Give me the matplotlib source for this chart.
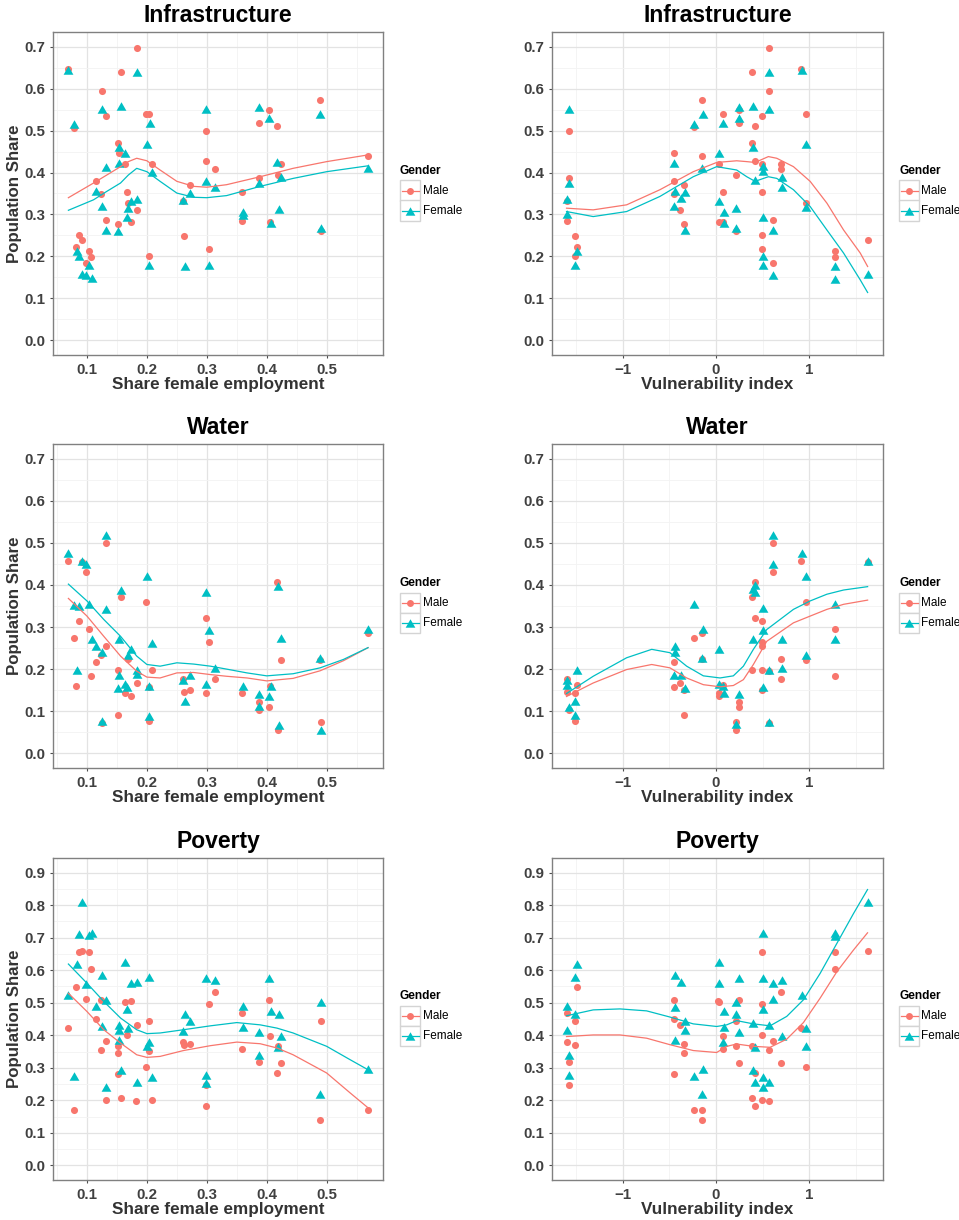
import matplotlib
matplotlib.use("Agg")
import matplotlib.pyplot as plt
from matplotlib.lines import Line2D
from matplotlib.patches import Rectangle

plt.rcParams['font.family'] = ['Liberation Sans', 'DejaVu Sans']

MALE_COLOR = '#F8766D'
FEMALE_COLOR = '#00BFC4'

# ---------------- Infrastructure ----------------
infra_emp_male = [(0.068, 0.647), (0.079, 0.507), (0.082, 0.223), (0.087, 0.251), (0.091, 0.239),
                  (0.099, 0.185), (0.103, 0.213), (0.107, 0.198), (0.115, 0.379), (0.125, 0.594),
                  (0.124, 0.348), (0.132, 0.534), (0.131, 0.287), (0.152, 0.470), (0.153, 0.446),
                  (0.151, 0.278), (0.157, 0.639), (0.163, 0.420), (0.167, 0.353), (0.168, 0.328),
                  (0.173, 0.282), (0.183, 0.698), (0.183, 0.310), (0.198, 0.539), (0.204, 0.539),
                  (0.208, 0.420), (0.204, 0.201), (0.260, 0.331), (0.262, 0.248), (0.272, 0.370),
                  (0.299, 0.498), (0.298, 0.427), (0.313, 0.408), (0.304, 0.217), (0.359, 0.353),
                  (0.359, 0.284), (0.387, 0.519), (0.387, 0.387), (0.403, 0.548), (0.417, 0.510),
                  (0.423, 0.420), (0.419, 0.395), (0.406, 0.282), (0.489, 0.572), (0.490, 0.260),
                  (0.569, 0.439)]
infra_emp_female = [(0.069, 0.644), (0.079, 0.516), (0.083, 0.213), (0.087, 0.202), (0.091, 0.159),
                    (0.099, 0.156), (0.103, 0.179), (0.108, 0.148), (0.115, 0.356), (0.125, 0.552),
                    (0.125, 0.320), (0.132, 0.413), (0.131, 0.262), (0.157, 0.559), (0.153, 0.461),
                    (0.164, 0.447), (0.153, 0.422), (0.152, 0.261), (0.174, 0.332), (0.169, 0.315),
                    (0.167, 0.294), (0.184, 0.338), (0.183, 0.640), (0.200, 0.467), (0.205, 0.517),
                    (0.209, 0.402), (0.204, 0.179), (0.261, 0.335), (0.263, 0.178), (0.272, 0.351),
                    (0.299, 0.551), (0.299, 0.380), (0.314, 0.365), (0.304, 0.179), (0.360, 0.299),
                    (0.360, 0.306), (0.387, 0.556), (0.387, 0.375), (0.404, 0.529), (0.407, 0.280),
                    (0.417, 0.425), (0.424, 0.390), (0.420, 0.314), (0.489, 0.540), (0.491, 0.267),
                    (0.569, 0.411)]
infra_emp_fit_x = [0.069, 0.111, 0.133, 0.156, 0.169, 0.183, 0.200, 0.222, 0.250, 0.278,
                   0.300, 0.333, 0.389, 0.444, 0.500, 0.569]
infra_emp_fit_male = [0.340, 0.375, 0.394, 0.414, 0.426, 0.434, 0.428, 0.406, 0.379, 0.367,
                      0.365, 0.371, 0.390, 0.410, 0.426, 0.442]
infra_emp_fit_female = [0.310, 0.335, 0.355, 0.375, 0.394, 0.410, 0.402, 0.379, 0.351, 0.341,
                        0.340, 0.345, 0.367, 0.386, 0.402, 0.416]

infra_vul_male = [(-1.602, 0.284), (-1.602, 0.333), (-1.573, 0.387), (-1.573, 0.498), (-1.516, 0.248),
                  (-1.516, 0.201), (-1.487, 0.223), (-0.448, 0.446), (-0.448, 0.379), (-0.448, 0.348),
                  (-0.340, 0.370), (-0.383, 0.310), (-0.340, 0.277), (-0.240, 0.509), (-0.147, 0.572),
                  (-0.147, 0.439), (0.032, 0.421), (0.029, 0.282), (0.079, 0.282), (0.075, 0.539),
                  (0.075, 0.353), (0.215, 0.394), (0.215, 0.260), (0.244, 0.548), (0.244, 0.519),
                  (0.391, 0.639), (0.391, 0.470), (0.416, 0.510), (0.416, 0.427), (0.498, 0.534),
                  (0.498, 0.420), (0.498, 0.353), (0.498, 0.251), (0.498, 0.217), (0.570, 0.698),
                  (0.570, 0.594), (0.613, 0.287), (0.613, 0.184), (0.699, 0.420), (0.699, 0.408),
                  (0.914, 0.647), (0.961, 0.539), (0.961, 0.328), (1.276, 0.213), (1.276, 0.198),
                  (1.627, 0.239)]
infra_vul_female = [(-1.577, 0.552), (-1.573, 0.376), (-1.602, 0.337), (-1.602, 0.301), (-1.487, 0.214),
                    (-1.516, 0.179), (-0.448, 0.422), (-0.444, 0.356), (-0.448, 0.321), (-0.337, 0.353),
                    (-0.376, 0.339), (-0.333, 0.263), (-0.240, 0.516), (-0.143, 0.540), (-0.147, 0.410),
                    (0.029, 0.446), (0.029, 0.333), (0.075, 0.517), (0.082, 0.306), (0.082, 0.280),
                    (0.215, 0.315), (0.219, 0.267), (0.247, 0.556), (0.247, 0.529), (0.394, 0.559),
                    (0.394, 0.461), (0.416, 0.382), (0.502, 0.416), (0.502, 0.404), (0.502, 0.294),
                    (0.502, 0.202), (0.502, 0.179), (0.573, 0.640), (0.573, 0.552), (0.616, 0.262),
                    (0.616, 0.156), (0.703, 0.390), (0.703, 0.365), (0.918, 0.644), (0.964, 0.467),
                    (0.964, 0.317), (1.280, 0.178), (1.280, 0.147), (1.631, 0.159)]
infra_vul_fit_x = [-1.604, -1.318, -0.959, -0.602, -0.244, 0.007, 0.222, 0.330, 0.419, 0.562,
                   0.652, 0.831, 1.010, 1.190, 1.369, 1.548, 1.627]
infra_vul_fit_male = [0.315, 0.311, 0.323, 0.359, 0.402, 0.424, 0.428, 0.426, 0.424, 0.438,
                      0.434, 0.414, 0.379, 0.327, 0.263, 0.208, 0.176]
infra_vul_fit_female = [0.307, 0.295, 0.307, 0.343, 0.390, 0.414, 0.406, 0.390, 0.379, 0.390,
                        0.386, 0.359, 0.319, 0.263, 0.208, 0.144, 0.114]

# ---------------- Water ----------------
water_emp_male = [(0.068, 0.458), (0.079, 0.274), (0.082, 0.161), (0.087, 0.315), (0.091, 0.454),
                  (0.099, 0.430), (0.103, 0.296), (0.107, 0.184), (0.115, 0.217), (0.124, 0.233),
                  (0.125, 0.072), (0.131, 0.499), (0.132, 0.255), (0.151, 0.091), (0.152, 0.199),
                  (0.157, 0.372), (0.163, 0.143), (0.168, 0.223), (0.173, 0.137), (0.183, 0.167),
                  (0.199, 0.360), (0.204, 0.158), (0.204, 0.076), (0.208, 0.199), (0.260, 0.177),
                  (0.262, 0.146), (0.272, 0.150), (0.298, 0.321), (0.304, 0.265), (0.299, 0.143),
                  (0.313, 0.177), (0.359, 0.144), (0.387, 0.123), (0.387, 0.103), (0.403, 0.110),
                  (0.417, 0.406), (0.423, 0.222), (0.419, 0.055), (0.406, 0.159), (0.489, 0.222),
                  (0.490, 0.075), (0.569, 0.286)]
water_emp_female = [(0.069, 0.476), (0.079, 0.353), (0.083, 0.197), (0.087, 0.350), (0.091, 0.456),
                    (0.099, 0.450), (0.103, 0.355), (0.108, 0.271), (0.115, 0.256), (0.125, 0.240),
                    (0.125, 0.076), (0.131, 0.518), (0.132, 0.344), (0.153, 0.272), (0.153, 0.187),
                    (0.152, 0.155), (0.157, 0.388), (0.164, 0.165), (0.167, 0.158), (0.169, 0.234),
                    (0.174, 0.247), (0.184, 0.197), (0.183, 0.189), (0.200, 0.421), (0.204, 0.161),
                    (0.204, 0.089), (0.209, 0.263), (0.261, 0.173), (0.263, 0.124), (0.272, 0.185),
                    (0.298, 0.383), (0.304, 0.293), (0.299, 0.165), (0.314, 0.202), (0.360, 0.161),
                    (0.387, 0.142), (0.387, 0.113), (0.404, 0.137), (0.407, 0.159), (0.418, 0.398),
                    (0.424, 0.273), (0.420, 0.068), (0.489, 0.226), (0.490, 0.056), (0.569, 0.295)]
water_emp_fit_x = [0.069, 0.100, 0.128, 0.156, 0.183, 0.200, 0.222, 0.250, 0.278, 0.306,
                   0.333, 0.367, 0.400, 0.444, 0.489, 0.528, 0.569]
water_emp_fit_male = [0.368, 0.326, 0.278, 0.231, 0.195, 0.181, 0.179, 0.191, 0.192, 0.187,
                      0.183, 0.179, 0.172, 0.178, 0.196, 0.220, 0.251]
water_emp_fit_female = [0.402, 0.362, 0.318, 0.278, 0.231, 0.211, 0.207, 0.215, 0.212, 0.207,
                        0.200, 0.191, 0.184, 0.189, 0.203, 0.223, 0.251]

water_vul_male = [(-1.602, 0.177), (-1.602, 0.146), (-1.573, 0.103), (-1.516, 0.076), (-1.516, 0.143),
                  (-1.487, 0.162), (-0.448, 0.218), (-0.448, 0.158), (-0.383, 0.167), (-0.340, 0.151),
                  (-0.340, 0.091), (-0.240, 0.274), (-0.147, 0.286), (-0.147, 0.223), (0.029, 0.143),
                  (0.032, 0.137), (0.075, 0.162), (0.215, 0.075), (0.215, 0.055), (0.244, 0.123),
                  (0.244, 0.111), (0.391, 0.372), (0.391, 0.199), (0.416, 0.406), (0.416, 0.321),
                  (0.498, 0.315), (0.498, 0.265), (0.498, 0.256), (0.498, 0.199), (0.498, 0.151),
                  (0.570, 0.196), (0.570, 0.072), (0.613, 0.499), (0.613, 0.430), (0.699, 0.223),
                  (0.699, 0.177), (0.914, 0.458), (0.961, 0.360), (0.961, 0.222), (1.276, 0.296),
                  (1.276, 0.184), (1.627, 0.454)]
water_vul_female = [(-1.602, 0.173), (-1.602, 0.162), (-1.573, 0.111), (-1.516, 0.091), (-1.513, 0.125),
                    (-1.487, 0.197), (-0.444, 0.255), (-0.444, 0.241), (-0.448, 0.187), (-0.376, 0.187),
                    (-0.337, 0.155), (-0.240, 0.355), (-0.143, 0.296), (-0.147, 0.227), (0.029, 0.247),
                    (0.029, 0.165), (0.075, 0.159), (0.082, 0.143), (0.215, 0.070), (0.247, 0.140),
                    (0.394, 0.390), (0.394, 0.272), (0.416, 0.399), (0.416, 0.383), (0.502, 0.346),
                    (0.502, 0.293), (0.502, 0.158), (0.573, 0.199), (0.573, 0.075), (0.616, 0.519),
                    (0.616, 0.450), (0.703, 0.272), (0.703, 0.202), (0.918, 0.476), (0.964, 0.421),
                    (0.964, 0.234), (1.280, 0.355), (1.280, 0.272), (1.631, 0.457)]
water_vul_fit_x = [-1.604, -1.318, -0.959, -0.690, -0.494, -0.315, -0.136, 0.043, 0.186, 0.294,
                   0.401, 0.544, 0.831, 1.010, 1.190, 1.369, 1.627]
water_vul_fit_male = [0.135, 0.167, 0.199, 0.211, 0.203, 0.179, 0.163, 0.158, 0.161, 0.175,
                      0.211, 0.266, 0.310, 0.326, 0.342, 0.354, 0.364]
water_vul_fit_female = [0.142, 0.183, 0.227, 0.247, 0.239, 0.207, 0.184, 0.179, 0.184, 0.207,
                        0.247, 0.294, 0.342, 0.362, 0.378, 0.388, 0.396]

# ---------------- Poverty ----------------
pov_emp_male = [(0.068, 0.422), (0.079, 0.171), (0.082, 0.549), (0.087, 0.655), (0.091, 0.658),
                (0.099, 0.511), (0.103, 0.655), (0.107, 0.603), (0.115, 0.451), (0.124, 0.508),
                (0.124, 0.354), (0.131, 0.382), (0.132, 0.201), (0.151, 0.366), (0.151, 0.345),
                (0.152, 0.281), (0.157, 0.207), (0.163, 0.502), (0.167, 0.400), (0.173, 0.505),
                (0.183, 0.432), (0.182, 0.198), (0.199, 0.302), (0.204, 0.443), (0.204, 0.352),
                (0.208, 0.201), (0.260, 0.380), (0.262, 0.370), (0.272, 0.373), (0.304, 0.496),
                (0.313, 0.532), (0.299, 0.247), (0.298, 0.181), (0.359, 0.469), (0.359, 0.358),
                (0.387, 0.317), (0.403, 0.508), (0.406, 0.397), (0.419, 0.368), (0.423, 0.315),
                (0.417, 0.284), (0.490, 0.443), (0.489, 0.140), (0.569, 0.171)]
pov_emp_female = [(0.069, 0.523), (0.079, 0.276), (0.083, 0.618), (0.087, 0.711), (0.091, 0.810),
                  (0.099, 0.558), (0.103, 0.709), (0.108, 0.713), (0.115, 0.490), (0.125, 0.585),
                  (0.125, 0.430), (0.132, 0.509), (0.132, 0.241), (0.153, 0.433), (0.153, 0.415),
                  (0.153, 0.386), (0.157, 0.293), (0.164, 0.624), (0.167, 0.481), (0.169, 0.422),
                  (0.174, 0.560), (0.184, 0.563), (0.183, 0.256), (0.200, 0.366), (0.204, 0.580),
                  (0.204, 0.379), (0.209, 0.271), (0.261, 0.414), (0.263, 0.465), (0.272, 0.443),
                  (0.299, 0.575), (0.314, 0.571), (0.299, 0.278), (0.298, 0.252), (0.360, 0.491),
                  (0.360, 0.424), (0.387, 0.410), (0.387, 0.340), (0.404, 0.577), (0.407, 0.475),
                  (0.420, 0.465), (0.424, 0.397), (0.418, 0.363), (0.490, 0.502), (0.489, 0.220),
                  (0.569, 0.295)]
pov_emp_fit_x = [0.069, 0.100, 0.128, 0.156, 0.183, 0.200, 0.222, 0.261, 0.306, 0.350,
                 0.389, 0.417, 0.444, 0.500, 0.539, 0.569]
pov_emp_fit_male = [0.529, 0.473, 0.417, 0.376, 0.340, 0.332, 0.335, 0.353, 0.368, 0.379,
                    0.374, 0.361, 0.340, 0.284, 0.223, 0.177]
pov_emp_fit_female = [0.619, 0.560, 0.504, 0.453, 0.417, 0.405, 0.407, 0.417, 0.429, 0.439,
                      0.432, 0.422, 0.407, 0.366, 0.325, 0.294]

pov_vul_male = [(-1.602, 0.468), (-1.602, 0.379), (-1.573, 0.318), (-1.573, 0.247), (-1.516, 0.443),
                (-1.516, 0.370), (-1.487, 0.547), (-0.448, 0.508), (-0.448, 0.451), (-0.448, 0.281),
                (-0.383, 0.432), (-0.340, 0.373), (-0.340, 0.345), (-0.240, 0.171), (-0.147, 0.171),
                (-0.147, 0.140), (0.029, 0.502), (0.022, 0.505), (0.075, 0.397), (0.075, 0.358),
                (0.215, 0.443), (0.215, 0.368), (0.244, 0.508), (0.244, 0.315), (0.391, 0.366),
                (0.391, 0.207), (0.416, 0.284), (0.416, 0.181), (0.498, 0.655), (0.498, 0.496),
                (0.498, 0.400), (0.498, 0.201), (0.570, 0.355), (0.570, 0.198), (0.613, 0.382),
                (0.699, 0.532), (0.699, 0.315), (0.914, 0.422), (0.961, 0.302), (1.276, 0.655),
                (1.276, 0.603), (1.627, 0.658)]
pov_vul_female = [(-1.602, 0.491), (-1.602, 0.415), (-1.573, 0.340), (-1.573, 0.278), (-1.513, 0.579),
                  (-1.513, 0.466), (-1.487, 0.618), (-0.444, 0.585), (-0.444, 0.488), (-0.444, 0.386),
                  (-0.376, 0.563), (-0.337, 0.443), (-0.337, 0.415), (-0.240, 0.276), (-0.143, 0.296),
                  (-0.147, 0.220), (0.029, 0.624), (0.029, 0.560), (0.082, 0.475), (0.082, 0.424),
                  (0.075, 0.379), (0.219, 0.502), (0.219, 0.465), (0.247, 0.577), (0.247, 0.410),
                  (0.394, 0.437), (0.394, 0.293), (0.416, 0.363), (0.416, 0.256), (0.502, 0.713),
                  (0.502, 0.575), (0.502, 0.482), (0.502, 0.271), (0.502, 0.241), (0.573, 0.431),
                  (0.573, 0.256), (0.616, 0.560), (0.616, 0.511), (0.703, 0.571), (0.703, 0.397),
                  (0.918, 0.523), (0.964, 0.422), (0.964, 0.366), (1.280, 0.713), (1.280, 0.706),
                  (1.631, 0.810)]
pov_vul_fit_x = [-1.604, -1.318, -1.031, -0.745, -0.494, -0.244, 0.007, 0.115, 0.222, 0.401,
                 0.580, 0.759, 0.938, 1.117, 1.296, 1.475, 1.626]
pov_vul_fit_male = [0.396, 0.401, 0.401, 0.391, 0.371, 0.353, 0.347, 0.366, 0.373, 0.366,
                    0.363, 0.388, 0.439, 0.514, 0.595, 0.662, 0.715]
pov_vul_fit_female = [0.460, 0.478, 0.481, 0.475, 0.456, 0.435, 0.427, 0.432, 0.445, 0.435,
                      0.429, 0.458, 0.509, 0.590, 0.682, 0.774, 0.848]

# (title, x label, male points, female points, smoother x, male smoother, female smoother)
panels = [
    [("Infrastructure", "Share female employment", infra_emp_male, infra_emp_female,
      infra_emp_fit_x, infra_emp_fit_male, infra_emp_fit_female),
     ("Infrastructure", "Vulnerability index", infra_vul_male, infra_vul_female,
      infra_vul_fit_x, infra_vul_fit_male, infra_vul_fit_female)],
    [("Water", "Share female employment", water_emp_male, water_emp_female,
      water_emp_fit_x, water_emp_fit_male, water_emp_fit_female),
     ("Water", "Vulnerability index", water_vul_male, water_vul_female,
      water_vul_fit_x, water_vul_fit_male, water_vul_fit_female)],
    [("Poverty", "Share female employment", pov_emp_male, pov_emp_female,
      pov_emp_fit_x, pov_emp_fit_male, pov_emp_fit_female),
     ("Poverty", "Vulnerability index", pov_vul_male, pov_vul_female,
      pov_vul_fit_x, pov_vul_fit_male, pov_vul_fit_female)],
]

# equilateral triangle, centred on its bounding box
TRIANGLE = [(0, 0.75), (-0.866, -0.75), (0.866, -0.75)]

W, H = 959, 1220
fig = plt.figure(figsize=(W / 100, H / 100), dpi=100)


def fig_box(x0, y0, x1, y1):
    return [x0 / W, 1 - y1 / H, (x1 - x0) / W, (y1 - y0) / H]


def draw_legend(x_left, y_mid):
    fig.text(x_left / W, 1 - (y_mid - 23) / H, "Gender", fontsize=8.6, fontweight='bold',
             ha='left', va='center', color='black')
    keys = [("Male", MALE_COLOR, 'o', 5.0), ("Female", FEMALE_COLOR, TRIANGLE, 7.0)]
    for i, (label, color, marker, msize) in enumerate(keys):
        top = y_mid - 13 + 20 * i
        cy = 1 - (top + 10) / H
        fig.add_artist(Rectangle((x_left / W, 1 - (top + 20) / H), 20 / W, 20 / H,
                                 transform=fig.transFigure, facecolor='white',
                                 edgecolor='#d4d4d4', lw=1.0))
        fig.add_artist(Line2D([(x_left + 1.5) / W, (x_left + 18.5) / W], [cy, cy],
                              transform=fig.transFigure, color=color, lw=0.9))
        fig.add_artist(Line2D([(x_left + 10) / W], [cy], transform=fig.transFigure,
                              marker=marker, markersize=msize, color=color,
                              markeredgewidth=0, linestyle='none'))
        fig.text((x_left + 22.5) / W, cy, label, fontsize=8.5, ha='left', va='center',
                 color='black')


cols = [(53, 383), (552, 883)]
rows = [(32, 355), (444, 768), (858, 1180)]
legend_x = [400, 899]

for r, row in enumerate(panels):
    for c, (title, xlabel, male, female, fit_x, fit_m, fit_f) in enumerate(row):
        x0, x1 = cols[c]
        y0, y1 = rows[r]
        ax = fig.add_axes(fig_box(x0, y0, x1, y1))

        mx, my = zip(*male)
        fx, fy = zip(*female)
        ax.scatter(mx, my, s=26, c=MALE_COLOR, marker='o', linewidths=0, zorder=3)
        ax.scatter(fx, fy, s=50, c=FEMALE_COLOR, marker=TRIANGLE, linewidths=0, zorder=4)
        ax.plot(fit_x, fit_m, color=MALE_COLOR, lw=0.9, zorder=5)
        ax.plot(fit_x, fit_f, color=FEMALE_COLOR, lw=0.9, zorder=5)

        if c == 0:
            ax.set_xlim(0.0433, 0.594)
            ax.set_xticks([0.1, 0.2, 0.3, 0.4, 0.5])
            ax.set_xticklabels(["0.1", "0.2", "0.3", "0.4", "0.5"])
            ax.set_xticks([0.05, 0.15, 0.25, 0.35, 0.45, 0.55], minor=True)
        else:
            ax.set_xlim(-1.76, 1.792)
            ax.set_xticks([-1, 0, 1])
            ax.set_xticklabels(["\u22121", "0", "1"])
            ax.set_xticks([-1.5, -0.5, 0.5, 1.5], minor=True)

        ymax = 0.9 if r == 2 else 0.7
        n = int(round(ymax * 10))
        ax.set_ylim(-0.05 * ymax, 1.05 * ymax)
        ax.set_yticks([i / 10 for i in range(n + 1)])
        ax.set_yticklabels([f"{i / 10:.1f}" for i in range(n + 1)])
        ax.set_yticks([i / 10 + 0.05 for i in range(n)], minor=True)

        ax.set_axisbelow(True)
        ax.grid(which='major', color='#e3e3e3', lw=0.9)
        ax.grid(which='minor', color='#f3f3f3', lw=0.6)
        for sp in ax.spines.values():
            sp.set_color('#808080')
            sp.set_linewidth(1.0)
        ax.tick_params(which='major', length=2.5, width=0.8, color='#4d4d4d', pad=3,
                       labelsize=10.8, labelcolor='#404040')
        ax.tick_params(which='minor', length=0)
        for lab in ax.get_xticklabels() + ax.get_yticklabels():
            lab.set_fontweight('bold')

        ax.set_title(title, fontsize=16.5, fontweight='bold', pad=7, color='black')
        ax.set_xlabel(xlabel, fontsize=12.3, fontweight='bold', color='#333333', labelpad=0.5)
        if c == 0:
            ax.set_ylabel("Population Share", fontsize=12.2, fontweight='bold',
                          color='#333333', labelpad=2)

        draw_legend(legend_x[c], (y0 + y1) / 2)

fig.savefig("out.png", dpi=100, facecolor='white')
